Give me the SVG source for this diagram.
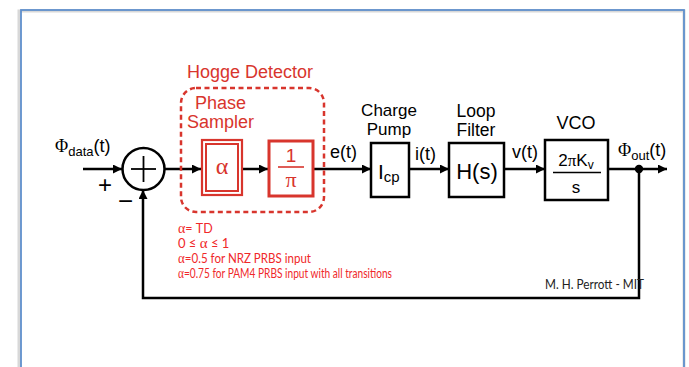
<svg xmlns="http://www.w3.org/2000/svg" width="689" height="367" viewBox="0 0 689 367">
<defs>
<marker id="ah" viewBox="0 0 10 10" refX="10" refY="5" markerWidth="10" markerHeight="9" markerUnits="userSpaceOnUse" orient="auto">
<path d="M0,0 L10,5 L0,10 z" fill="#000"/>
</marker>
</defs>
<style>
.lbl{font-family:"Liberation Sans",Arial,sans-serif;font-size:18px;fill:#000}
.sym{font-family:"Liberation Serif","Times New Roman",serif}
.red{fill:#d8352d}
.note{font-family:Lato,"Liberation Sans",sans-serif;font-size:12.5px;fill:#f0282a}
.box{fill:#fff;stroke:#000;stroke-width:2.5}
.rbox{fill:#fff;stroke:#d8352d}
.wire{fill:none;stroke:#000;stroke-width:2.5}
</style>
<rect width="689" height="367" fill="#fff"/>
<g id="frame">
<rect x="19" y="11" width="665" height="370" fill="none" stroke="#d8d8d8" stroke-width="3"/>
<rect x="21" y="10" width="663" height="370" fill="none" stroke="#5f8fcc" stroke-width="1.8"/>
</g>
<g id="connectors">
<line class="wire" x1="83" y1="169" x2="122" y2="169" marker-end="url(#ah)"/>
<line class="wire" x1="165" y1="169" x2="201" y2="169" marker-end="url(#ah)"/>
<line class="wire" x1="243" y1="169" x2="268" y2="169" marker-end="url(#ah)"/>
<line class="wire" x1="313" y1="169" x2="371" y2="169" marker-end="url(#ah)"/>
<line class="wire" x1="409" y1="169" x2="449" y2="169" marker-end="url(#ah)"/>
<line class="wire" x1="504" y1="169" x2="545" y2="169" marker-end="url(#ah)"/>
<line class="wire" x1="608" y1="169" x2="667" y2="169" marker-end="url(#ah)"/>
<path class="wire" d="M639,169 L639,298 L143,298 L143,190" marker-end="url(#ah)"/>
<circle cx="639" cy="169" r="4.2" fill="#000"/>
</g>
<g id="labels">
<text class="lbl" x="55" y="152"><tspan class="sym">Φ</tspan><tspan style="font-size:13px" dy="4">data</tspan><tspan dy="-4">(t)</tspan></text>
<text class="lbl" x="98" y="193" style="font-size:24px">+</text>
<text class="lbl" x="118" y="210" style="font-size:26px">−</text>
<text class="lbl" x="330" y="158">e(t)</text>
<text class="lbl" x="415" y="160">i(t)</text>
<text class="lbl" x="512" y="158">v(t)</text>
<text class="lbl" x="618" y="156"><tspan class="sym">Φ</tspan><tspan style="font-size:13px" dy="4">out</tspan><tspan dy="-4">(t)</tspan></text>
</g>
<g id="summer">
<circle cx="143.5" cy="169" r="21" fill="#fff" stroke="#000" stroke-width="2.5"/>
<line x1="131" y1="169" x2="156" y2="169" stroke="#000" stroke-width="1.8"/>
<line x1="143.5" y1="156" x2="143.5" y2="182" stroke="#000" stroke-width="1.8"/>
</g>
<g id="hogge">
<rect x="181" y="88" width="143" height="124" rx="15" fill="none" stroke="#d8352d" stroke-width="2.5" stroke-dasharray="5 3.5"/>
<text class="lbl red" x="187" y="78">Hogge Detector</text>
<text class="lbl red" x="195" y="109">Phase</text>
<text class="lbl red" x="187" y="128">Sampler</text>
</g>
<g id="alpha">
<rect class="rbox" x="202" y="140" width="40" height="55" stroke-width="2.2"/>
<rect x="206" y="144" width="32" height="47" fill="none" stroke="#d8352d" stroke-width="2"/>
<text class="sym red" x="222" y="174" style="font-size:24px" text-anchor="middle">α</text>
</g>
<g id="invpi">
<rect class="rbox" x="269" y="141" width="44" height="55" stroke-width="3"/>
<text class="lbl red" x="291" y="162" style="font-size:19px" text-anchor="middle">1</text>
<line x1="278" y1="167" x2="304" y2="167" stroke="#d8352d" stroke-width="1.6"/>
<text class="sym red" x="291" y="187" style="font-size:22px" text-anchor="middle">π</text>
</g>
<g id="chargepump">
<text class="lbl" x="389" y="116" style="font-size:17px" text-anchor="middle">Charge</text>
<text class="lbl" x="389" y="135" style="font-size:17px" text-anchor="middle">Pump</text>
<rect class="box" x="371" y="143" width="38" height="54"/>
<text class="lbl" x="378" y="179" style="font-size:21px">I<tspan style="font-size:15px" dy="3">cp</tspan></text>
</g>
<g id="loopfilter">
<text class="lbl" x="476" y="117" style="font-size:17.5px" text-anchor="middle">Loop</text>
<text class="lbl" x="476" y="136" style="font-size:17.5px" text-anchor="middle">Filter</text>
<rect class="box" x="449" y="143" width="55" height="54"/>
<text class="lbl" x="477" y="179" style="font-size:22px" text-anchor="middle">H(s)</text>
</g>
<g id="vco">
<text class="lbl" x="576" y="129" text-anchor="middle">VCO</text>
<rect class="box" x="545" y="140" width="63" height="60" stroke-width="3"/>
<text class="lbl" x="576" y="166" style="font-size:17px" text-anchor="middle">2<tspan class="sym">π</tspan>K<tspan style="font-size:12px" dy="3">v</tspan></text>
<line x1="553" y1="172.5" x2="601" y2="172.5" stroke="#000" stroke-width="1.6"/>
<text class="lbl" x="576" y="193" style="font-size:17px" text-anchor="middle">s</text>
</g>
<g id="notes">
<text class="note" x="178" y="233"><tspan class="sym" style="font-size:14px">α</tspan>= TD</text>
<text class="note" x="178" y="248" style="font-size:13px">0 ≤ <tspan class="sym" style="font-size:15px">α</tspan> ≤ 1</text>
<text class="note" x="178" y="263" textLength="133" lengthAdjust="spacingAndGlyphs"><tspan class="sym" style="font-size:14px">α</tspan>=0.5 for NRZ PRBS input</text>
<text class="note" x="178" y="278" textLength="214" lengthAdjust="spacingAndGlyphs"><tspan class="sym" style="font-size:14px">α</tspan>=0.75 for PAM4 PRBS input with all transitions</text>
</g>
<text x="545" y="289" font-family="Lato,'Liberation Sans',sans-serif" font-size="12.5" fill="#222" textLength="99" lengthAdjust="spacingAndGlyphs">M. H. Perrott - MIT</text>
</svg>
